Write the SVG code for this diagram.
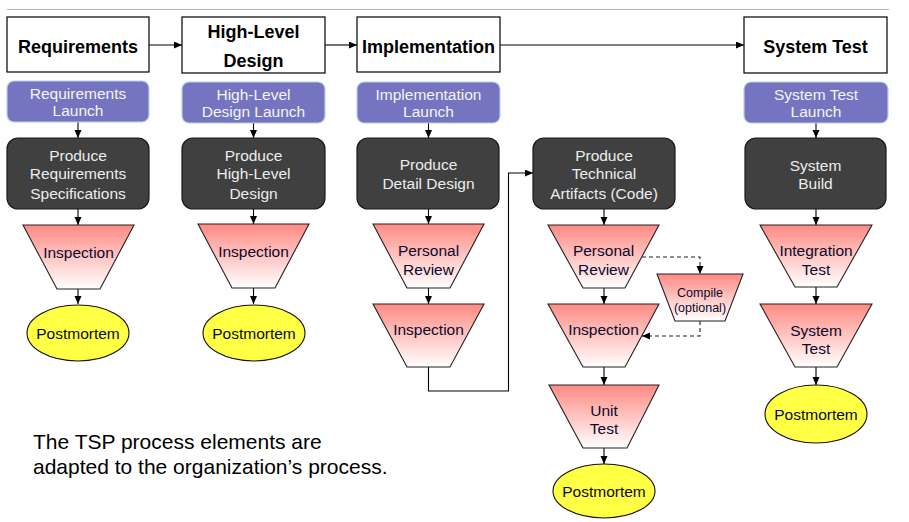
<svg xmlns="http://www.w3.org/2000/svg" width="909" height="522" viewBox="0 0 909 522">
<style>
text{font-family:"Liberation Sans",Arial,sans-serif;text-anchor:middle}
.hdr rect{fill:#fff;stroke:#000;stroke-width:1.2}
.hdr text{font-size:18px;font-weight:bold;fill:#000}
.launch rect{fill:#7474c0;stroke:#b8d0f0;stroke-width:1.2}
.launch text{font-size:15.5px;fill:#f4f4f4}
.task rect{fill:#404040;stroke:#1a1a1a;stroke-width:1.2}
.task text{font-size:15.5px;fill:#ececec}
.trap path{fill:url(#tg);stroke:#222;stroke-width:1.1}
.trap text{font-size:15.5px;fill:#0a0a30}
.pm ellipse{fill:#ffff44;stroke:#111;stroke-width:1.1}
.pm text{font-size:15.5px;fill:#0a0a20}
.c{fill:none;stroke:#000;stroke-width:1.1}
.d{fill:none;stroke:#222;stroke-width:1.1;stroke-dasharray:4 3}
</style>
<defs>
<linearGradient id="tg" x1="0" y1="0" x2="0" y2="1">
<stop offset="0" stop-color="#ff8a84"/>
<stop offset="1" stop-color="#ffffff"/>
</linearGradient>
<marker id="ar" markerUnits="userSpaceOnUse" markerWidth="9" markerHeight="8" refX="8" refY="3.5" orient="auto">
<path d="M0,0 L8,3.5 L0,7 z" fill="#000"/>
</marker>
</defs>
<line x1="7" y1="9.5" x2="889" y2="9.5" stroke="#b4b4b4" stroke-width="1.2"/>

<g id="connectors">
<line class="c" x1="149" y1="45" x2="182" y2="45" marker-end="url(#ar)"/>
<line class="c" x1="325" y1="45" x2="357" y2="45" marker-end="url(#ar)"/>
<line class="c" x1="500" y1="45" x2="744" y2="45" marker-end="url(#ar)"/>
<line class="c" x1="78" y1="122" x2="78" y2="138" marker-end="url(#ar)"/>
<line class="c" x1="78" y1="209" x2="78" y2="225" marker-end="url(#ar)"/>
<line class="c" x1="78" y1="289" x2="78" y2="304" marker-end="url(#ar)"/>
<line class="c" x1="253.5" y1="123" x2="253.5" y2="138" marker-end="url(#ar)"/>
<line class="c" x1="253.5" y1="209" x2="253.5" y2="224" marker-end="url(#ar)"/>
<line class="c" x1="253.5" y1="288" x2="253.5" y2="304" marker-end="url(#ar)"/>
<line class="c" x1="428.5" y1="123" x2="428.5" y2="138" marker-end="url(#ar)"/>
<line class="c" x1="428.5" y1="209" x2="428.5" y2="224" marker-end="url(#ar)"/>
<line class="c" x1="428.5" y1="288" x2="428.5" y2="304" marker-end="url(#ar)"/>
<polyline class="c" points="428.5,367 428.5,391 508.5,391 508.5,173 533,173" marker-end="url(#ar)"/>
<line class="c" x1="604" y1="209" x2="604" y2="225" marker-end="url(#ar)"/>
<line class="c" x1="604" y1="288" x2="604" y2="304" marker-end="url(#ar)"/>
<line class="c" x1="604" y1="367" x2="604" y2="385" marker-end="url(#ar)"/>
<line class="c" x1="604" y1="448" x2="604" y2="464" marker-end="url(#ar)"/>
<polyline class="d" points="642,257 700,257 700,274" marker-end="url(#ar)"/>
<polyline class="d" points="700,321 700,336 642,336" marker-end="url(#ar)"/>
<line class="c" x1="816" y1="123" x2="816" y2="138" marker-end="url(#ar)"/>
<line class="c" x1="816" y1="209" x2="816" y2="225" marker-end="url(#ar)"/>
<line class="c" x1="816" y1="287" x2="816" y2="304" marker-end="url(#ar)"/>
<line class="c" x1="816" y1="367" x2="816" y2="385" marker-end="url(#ar)"/>
</g>

<g id="hdr-requirements" class="hdr"><rect x="7" y="17" width="142" height="55"/><text x="78" y="53">Requirements</text></g>
<g id="hdr-hld" class="hdr"><rect x="182" y="17" width="143" height="56"/><text x="253.5" y="38">High-Level</text><text x="253.5" y="67">Design</text></g>
<g id="hdr-impl" class="hdr"><rect x="357" y="17" width="143" height="55"/><text x="428.5" y="53">Implementation</text></g>
<g id="hdr-systest" class="hdr"><rect x="744" y="17" width="143" height="56"/><text x="815.5" y="53">System Test</text></g>

<g id="launch-req" class="launch"><rect x="7" y="81" width="142" height="41" rx="7"/><text x="78" y="99">Requirements</text><text x="78" y="116">Launch</text></g>
<g id="launch-hld" class="launch"><rect x="182" y="82" width="143" height="41" rx="7"/><text x="253.5" y="100">High-Level</text><text x="253.5" y="117">Design Launch</text></g>
<g id="launch-impl" class="launch"><rect x="357" y="82" width="143" height="41" rx="7"/><text x="428.5" y="100">Implementation</text><text x="428.5" y="117">Launch</text></g>
<g id="launch-systest" class="launch"><rect x="744" y="82" width="144" height="41" rx="7"/><text x="816" y="100">System Test</text><text x="816" y="117">Launch</text></g>

<g id="task-req" class="task"><rect x="7" y="138" width="142" height="71" rx="11"/><text x="78" y="161">Produce</text><text x="78" y="179">Requirements</text><text x="78" y="199">Specifications</text></g>
<g id="task-hld" class="task"><rect x="182" y="138" width="143" height="71" rx="11"/><text x="253.5" y="161">Produce</text><text x="253.5" y="179">High-Level</text><text x="253.5" y="199">Design</text></g>
<g id="task-dd" class="task"><rect x="357" y="138" width="142" height="71" rx="11"/><text x="428.5" y="170">Produce</text><text x="428.5" y="189">Detail Design</text></g>
<g id="task-code" class="task"><rect x="533" y="138" width="142" height="71" rx="11"/><text x="604" y="161">Produce</text><text x="604" y="179">Technical</text><text x="604" y="199">Artifacts (Code)</text></g>
<g id="task-build" class="task"><rect x="745" y="138" width="141" height="71" rx="11"/><text x="815.5" y="171">System</text><text x="815.5" y="189">Build</text></g>

<g id="insp-req" class="trap"><path d="M23,225 L134,225 L100,289 L57,289 Z"/><text x="78.5" y="258">Inspection</text></g>
<g id="insp-hld" class="trap"><path d="M198,224 L309,224 L275,288 L232,288 Z"/><text x="253.5" y="257">Inspection</text></g>
<g id="pr-impl" class="trap"><path d="M373,224 L484,224 L450,288 L407,288 Z"/><text x="428.5" y="256">Personal</text><text x="428.5" y="275">Review</text></g>
<g id="insp-impl" class="trap"><path d="M373,304 L484,304 L450,367 L407,367 Z"/><text x="428.5" y="335">Inspection</text></g>
<g id="pr-code" class="trap"><path d="M548,225 L659,225 L625,288 L583,288 Z"/><text x="603.5" y="256">Personal</text><text x="603.5" y="275">Review</text></g>
<g id="compile" class="trap"><path d="M657,274 L743,274 L725,321 L675,321 Z"/><text x="700" y="297" style="font-size:12.5px">Compile</text><text x="700" y="312" style="font-size:12.5px">(optional)</text></g>
<g id="insp-code" class="trap"><path d="M548,304 L659,304 L625,367 L583,367 Z"/><text x="603.5" y="335">Inspection</text></g>
<g id="unit-test" class="trap"><path d="M549,385 L659,385 L627,448 L583,448 Z"/><text x="604" y="416">Unit</text><text x="604" y="434">Test</text></g>
<g id="int-test" class="trap"><path d="M760,225 L872,225 L837,287 L795,287 Z"/><text x="816" y="256">Integration</text><text x="816" y="275">Test</text></g>
<g id="sys-test" class="trap"><path d="M760,304 L872,304 L837,367 L795,367 Z"/><text x="816" y="336">System</text><text x="816" y="354">Test</text></g>

<g id="pm-req" class="pm"><ellipse cx="78" cy="333" rx="51" ry="28"/><text x="78" y="338.5">Postmortem</text></g>
<g id="pm-hld" class="pm"><ellipse cx="254" cy="333" rx="51" ry="28"/><text x="254" y="338.5">Postmortem</text></g>
<g id="pm-code" class="pm"><ellipse cx="604" cy="491" rx="51" ry="27"/><text x="604" y="496.5">Postmortem</text></g>
<g id="pm-sys" class="pm"><ellipse cx="816" cy="414" rx="51" ry="29"/><text x="816" y="419.5">Postmortem</text></g>

<g id="note"><text x="33" y="449" style="text-anchor:start;font-size:21px;fill:#000">The TSP process elements are</text><text x="33" y="474" style="text-anchor:start;font-size:21px;fill:#000">adapted to the organization’s process.</text></g>
</svg>
